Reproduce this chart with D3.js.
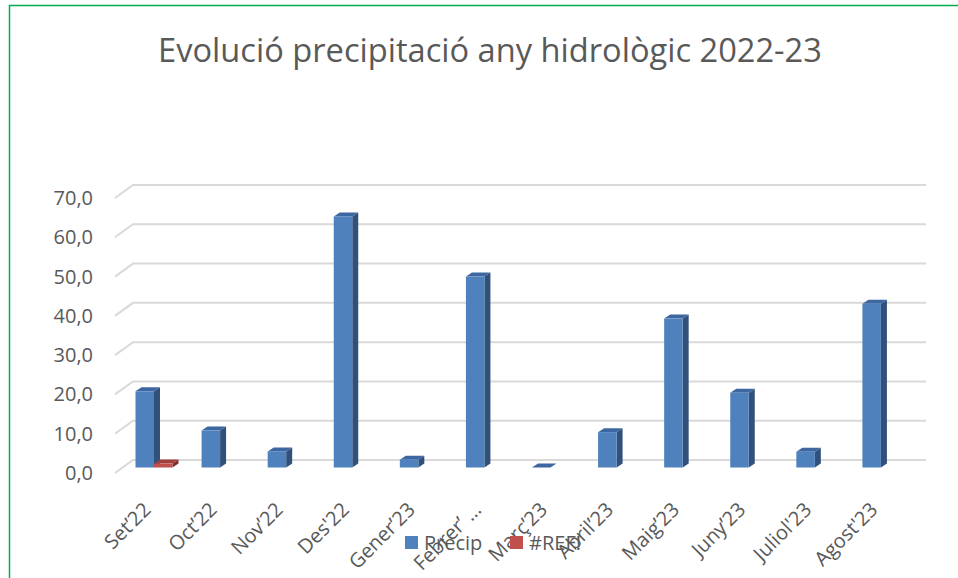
<!DOCTYPE html>
<html>
<head>
<meta charset="utf-8">
<script src="https://cdn.jsdelivr.net/npm/d3@7"></script>
<style>
  body { margin: 0; background: #fff; }
  svg { display: block; font-family: "Open Sans", "Noto Sans", sans-serif; }
</style>
</head>
<body>
<div id="chart"></div>
<script>
// Monthly precipitation, hydrological year 2022-23
const months = ["Set’22", "Oct’22", "Nov’22", "Des'22", "Gener’23", "Febrer’ …",
                "Març’23", "Abril’23", "Maig’23", "Juny’23", "Juliol'23", "Agost'23"];
const precip = [19.4, 9.4, 4.1, 63.9, 2.0, 48.6, 0, 9.0, 37.9, 19.0, 4.0, 41.7];
const refErr = [1.0, null, null, null, null, null, null, null, null, null, null, null];
const yTicks = [0, 10, 20, 30, 40, 50, 60, 70];
const seriesNames = ["Precip", "#REF!"];

const W = 958, H = 578;
const INK = "#595959";
const GRID = "#d9d9d9";
const DEPTH = { x: 18, y: 13 };      // floor depth (side wall)
const BAR3D = { x: 6, y: 4 };        // bar side/top extrusion
const SHADES = [
  { front: "#4f81bd", side: "#31507a", top: "#3d67a0" },
  { front: "#c0504d", side: "#7f302e", top: "#a23f3c" }
];

const svg = d3.select("#chart").append("svg")
  .attr("width", W).attr("height", H).attr("viewBox", `0 0 ${W} ${H}`);

// Green frame
svg.append("path").attr("d", `M9.5,${H} V5.5 H${W}`)
  .attr("fill", "none").attr("stroke", "#00b050").attr("stroke-width", 1.5);

// Title, fitted to the reference width
const title = svg.append("text").attr("x", 490).attr("y", 62)
  .attr("text-anchor", "middle").attr("fill", INK).attr("font-size", 30)
  .text("Evolució precipitació any hidrològic 2022-23");
const tw = title.node().getComputedTextLength();
title.attr("font-size", 30 * 664 / tw);

const x = d3.scaleBand().domain(months).range([133, 926]);
const yBack = d3.scaleLinear().domain([0, 70]).range([460, 185]);   // back wall
const yBar  = d3.scaleLinear().domain([0, 70]).range([467.5, 192.5]); // bar plane

// Gridlines: back wall + side wall diagonal
const grid = svg.append("g").attr("stroke", GRID).attr("stroke-width", 2).attr("fill", "none");
yTicks.forEach(t => {
  const yy = yBack(t);
  grid.append("path")
    .attr("d", `M${133 - DEPTH.x},${yy + DEPTH.y} L133,${yy} H926`);
});

// Y labels
svg.append("g").selectAll("text").data(yTicks).join("text")
  .attr("x", 93).attr("y", d => yBack(d) + DEPTH.y + 7)
  .attr("text-anchor", "end").attr("fill", INK).attr("font-size", 20)
  .text(d => d3.format(".1f")(d).replace(".", ","));

// 3D bars
const barW = 18.5;
function drawBar(g, x0, v, shade) {
  const y0 = yBar(0), y1 = yBar(v);
  const dx = BAR3D.x, dy = BAR3D.y;
  // side
  g.append("path").attr("fill", shade.side)
    .attr("d", `M${x0 + barW},${y1} L${x0 + barW + dx},${y1 - dy} V${y0 - dy} L${x0 + barW},${y0} Z`);
  // top
  g.append("path").attr("fill", shade.top)
    .attr("d", `M${x0},${y1} L${x0 + dx},${y1 - dy} H${x0 + barW + dx} L${x0 + barW},${y1} Z`);
  // front
  if (y0 - y1 > 0.2) {
    g.append("rect").attr("x", x0).attr("y", y1)
      .attr("width", barW).attr("height", y0 - y1).attr("fill", shade.front);
  }
}

const bars = svg.append("g");
[precip, refErr].forEach((series, si) => {
  series.forEach((v, i) => {
    if (v == null) return;
    drawBar(bars, x(months[i]) + 2.5 + si * barW, v, SHADES[si]);
  });
});

// X labels, rotated
svg.append("g").selectAll("text").data(months).join("text")
  .attr("transform", d => `translate(${x(d) + 19},${511}) rotate(-45)`)
  .attr("text-anchor", "end").attr("fill", INK).attr("font-size", 20)
  .text(d => d);

// Legend
const legend = svg.append("g");
const legendX = [405, 510];
seriesNames.forEach((name, i) => {
  legend.append("rect").attr("x", legendX[i]).attr("y", 536)
    .attr("width", 13).attr("height", 13).attr("fill", SHADES[i].front);
  legend.append("text").attr("x", legendX[i] + 19).attr("y", 550)
    .attr("fill", INK).attr("font-size", 20).text(name);
});
</script>
</body>
</html>
